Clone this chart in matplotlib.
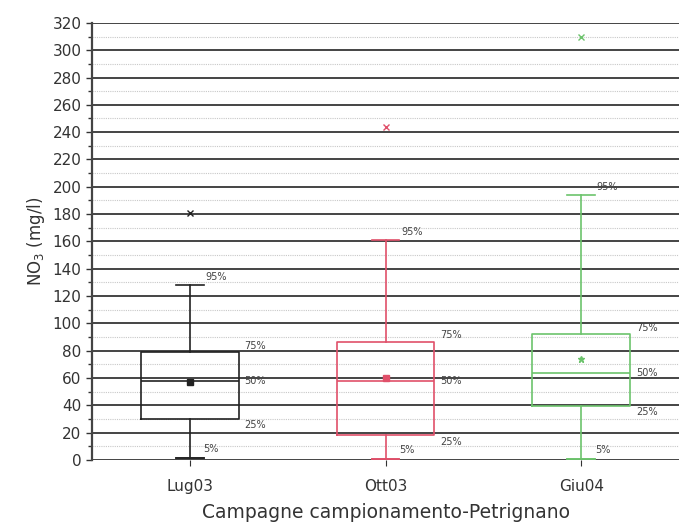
import matplotlib.pyplot as plt
from matplotlib.ticker import MultipleLocator

# Dati (mg/l)
campagne = ['Lug03', 'Ott03', 'Giu04']
p5 = [1.5, 0.5, 1.0]
p25 = [30, 18, 39.5]
mediana = [58, 58, 64]
p75 = [79, 86.5, 92]
p95 = [128, 161, 194]
media = [57, 60, 74]
outlier = [181, 244, 310]
colori = ['#222222', '#e0506a', '#6cc36c']
marker_media = ['s', 's', '*']

fig = plt.figure(figsize=(6.79, 5.26), dpi=100)
ax = fig.add_axes([0.1355, 0.1255, 0.8645, 0.831])

# Griglia
ax.set_ylim(0, 320)
ax.set_xlim(0.5, 3.5)
ax.yaxis.set_major_locator(MultipleLocator(20))
ax.yaxis.set_minor_locator(MultipleLocator(10))
ax.grid(axis='y', which='major', color='#444444', linewidth=1.4)
ax.grid(axis='y', which='minor', color='#c8c8c8', linewidth=0.8, linestyle=(0, (1, 1)))
ax.set_axisbelow(True)

# Box plot
stats = []
for i in range(3):
    stats.append({'whislo': p5[i], 'q1': p25[i], 'med': mediana[i], 'q3': p75[i],
                  'whishi': p95[i], 'mean': media[i], 'fliers': [outlier[i]]})

for i in range(3):
    c = colori[i]
    ax.bxp([stats[i]], positions=[i + 1], widths=0.5, showmeans=True,
           boxprops=dict(color=c, linewidth=1.2),
           medianprops=dict(color=c, linewidth=1.2),
           whiskerprops=dict(color=c, linewidth=1.2),
           capprops=dict(color=c, linewidth=1.2),
           capwidths=0.14,
           meanprops=dict(marker=marker_media[i], markerfacecolor=c,
                          markeredgecolor=c, markersize=5),
           flierprops=dict(marker='x', markeredgecolor=c, markersize=4))
    # tacca al 5%
    ax.plot([i + 1 - 0.07, i + 1 + 0.07], [p5[i], p5[i]], color=c, lw=1.2, clip_on=False)

    # Etichette percentili
    ax.text(i + 1 + 0.08, p95[i] + 2, '95%', fontsize=7, color='#444444', va='bottom')
    ax.text(i + 1 + 0.28, p75[i] + 1, '75%', fontsize=7, color='#444444', va='bottom')
    ax.text(i + 1 + 0.28, mediana[i], '50%', fontsize=7, color='#444444', va='center')
    ax.text(i + 1 + 0.28, p25[i] - 1, '25%', fontsize=7, color='#444444', va='top')
    ax.text(i + 1 + 0.07, p5[i] + 3, '5%', fontsize=7, color='#444444', va='bottom')

ax.set_xticks([1, 2, 3])
ax.set_xticklabels(campagne, fontsize=11, color='#333333')
ax.tick_params(axis='y', which='major', labelsize=11, labelcolor='#333333',
               length=4, width=1, color='#333333')
ax.tick_params(axis='y', which='minor', length=3, width=1, color='#333333')
ax.tick_params(axis='x', length=4, color='#333333', pad=10)

for s in ['top', 'right', 'bottom']:
    ax.spines[s].set_visible(False)
ax.spines['left'].set_color('#444444')
ax.spines['left'].set_linewidth(1.6)

ax.set_ylabel('NO$_3$ (mg/l)', fontsize=12, color='#333333', labelpad=4)
ax.set_xlabel('Campagne campionamento-Petrignano', fontsize=13.5, color='#333333', labelpad=6)

plt.savefig('out.png', dpi=100)
